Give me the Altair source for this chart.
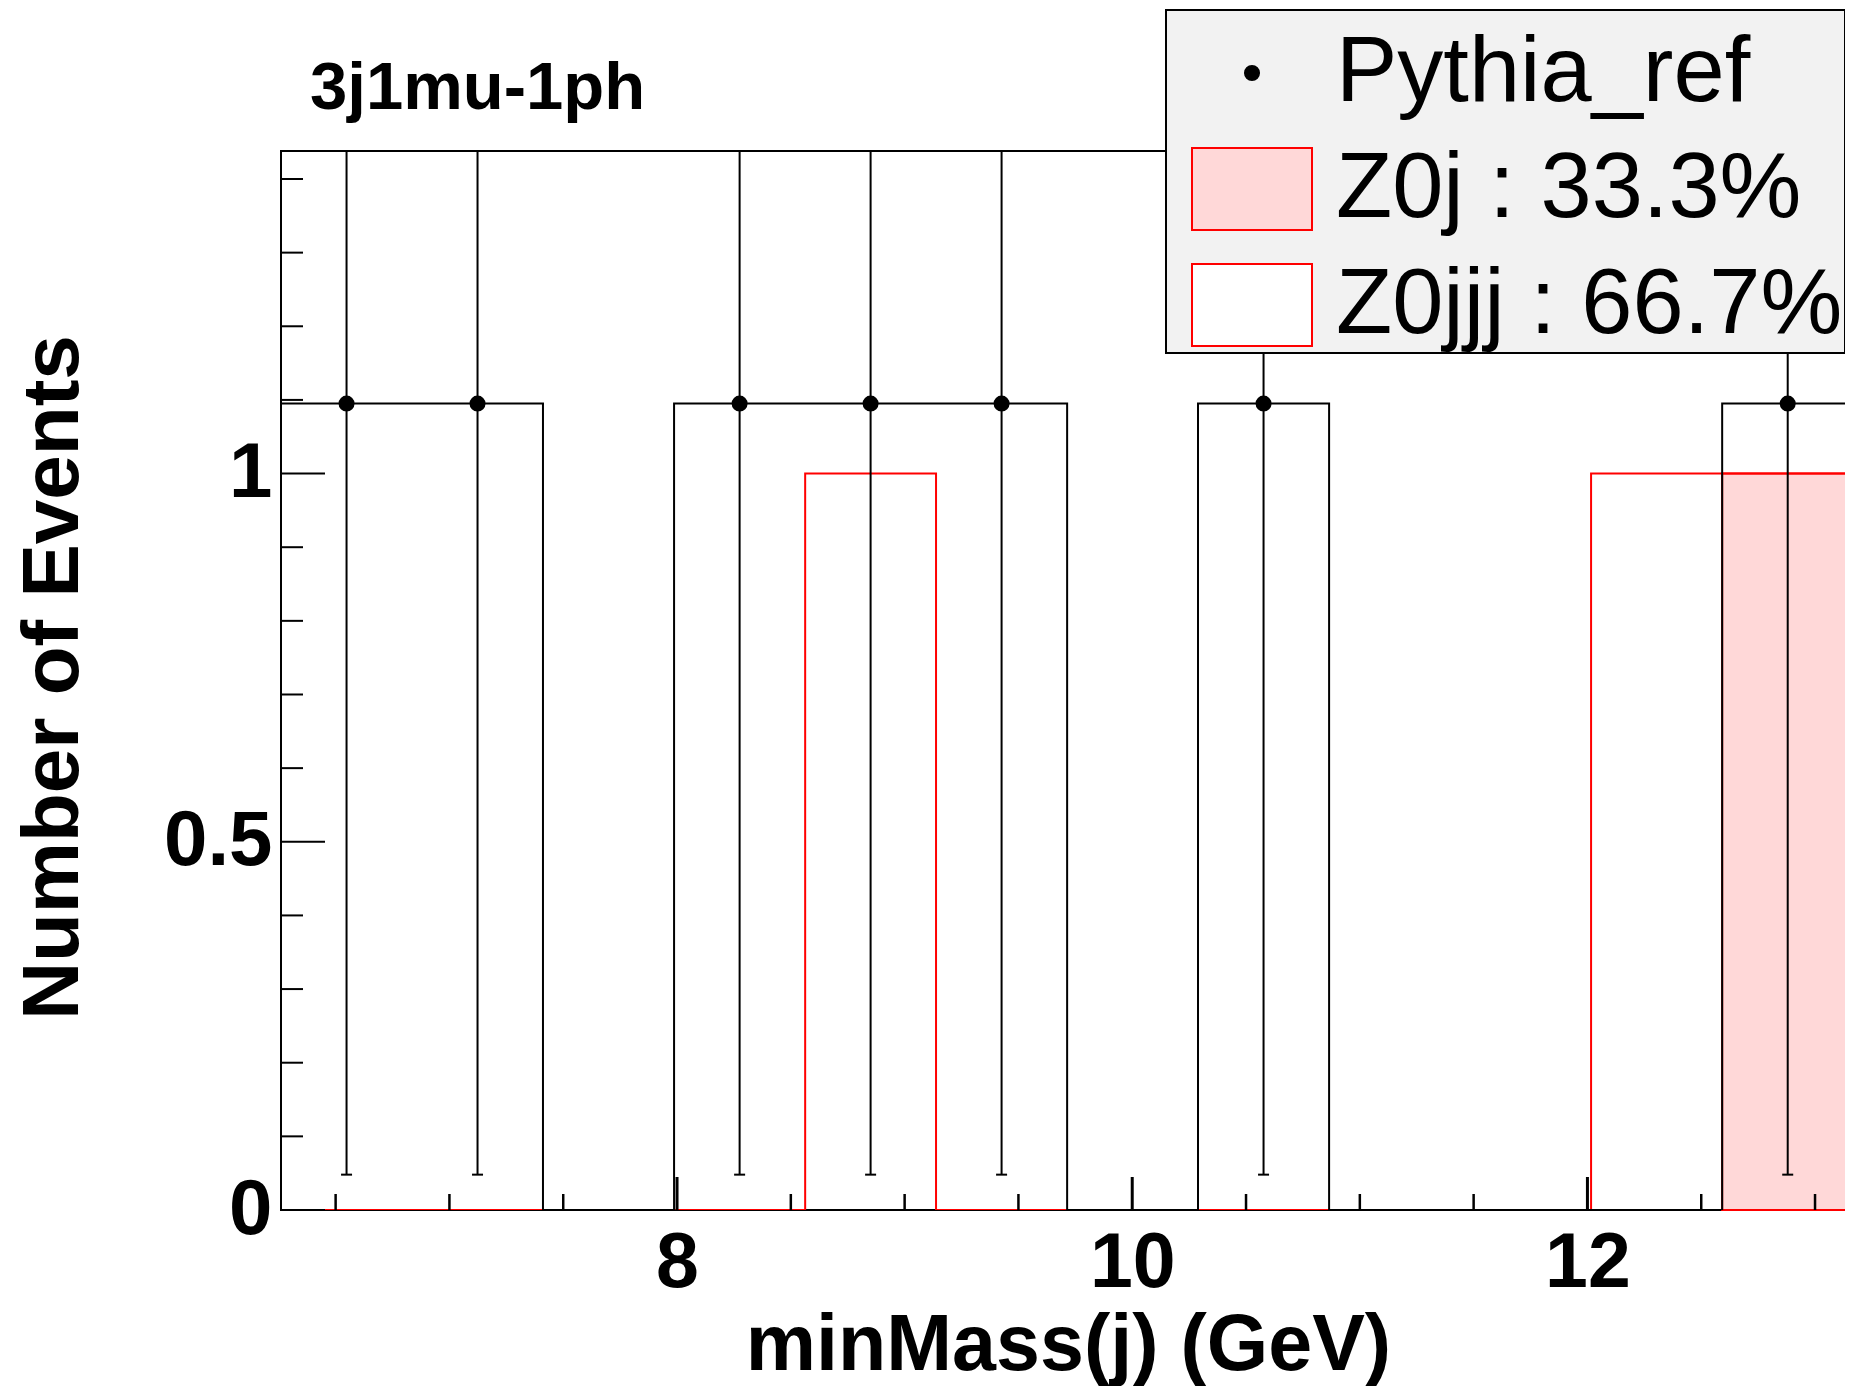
import altair as alt
import pandas as pd

# ---------------- data ----------------
bin_edges = [6.260, 6.836, 7.411, 7.987, 8.563, 9.138, 9.714, 10.289,
             10.865, 11.441, 12.016, 12.592, 13.168]
pythia_counts = [1.095, 1.095, 0.0, 1.095, 1.095, 1.095, 0.0, 1.095, 0.0, 0.0, 0.0, 1.095]
pythia_errors = [1.047, 1.047, 0.0, 1.047, 1.047, 1.047, 0.0, 1.047, 0.0, 0.0, 0.0, 1.047]
z0j_counts = [0, 0, 0, 0, 0, 0, 0, 0, 0, 0, 0, 1]
z0jjj_counts = [0, 0, 0, 0, 1, 0, 0, 0, 0, 0, 1, 0]
series_labels = ["Pythia_ref", "Z0j : 33.3%", "Z0jjj : 66.7%"]
title_text = "3j1mu-1ph"
x_title = "minMass(j) (GeV)"
y_title = "Number of Events"
x_major_ticks = [8, 10, 12]
x_minor_ticks = [6.5, 7, 7.5, 8.5, 9, 9.5, 10.5, 11, 11.5, 12.5, 13, 13.5]
y_major_ticks = [0, 0.5, 1.0]
y_minor_ticks = [0.1, 0.2, 0.3, 0.4, 0.6, 0.7, 0.8, 0.9, 1.1, 1.2, 1.3, 1.4]

# ---------------- layout / style ----------------
W, H = 1702, 1059
FONT = "Liberation Sans"
PINK = "#ffd8d8"
xs = alt.Scale(domain=[6.26, 13.738], nice=False, zero=False)
ys = alt.Scale(domain=[0, 1.438], nice=False, zero=False)

x_axis = alt.Axis(
    values=x_major_ticks, format="d", ticks=False, domain=False, grid=False,
    labelFont=FONT, labelFontWeight="bold", labelFontSize=77, labelColor="black",
    labelPadding=76, labelBaseline="alphabetic", labelFlush=False, labelOverlap=False,
    title=x_title, titleFont=FONT, titleFontWeight="bold", titleFontSize=79,
    titleColor="black", titleX=787, titleY=159, titleBaseline="alphabetic",
    titleAlign="center")
y_axis = alt.Axis(
    values=y_major_ticks, format="~g", ticks=False, domain=False, grid=False,
    labelFont=FONT, labelFontWeight="bold", labelFontSize=78, labelColor="black",
    labelPadding=9, labelBaseline="middle", labelFlush=False, labelOverlap=False,
    title=y_title, titleFont=FONT, titleFontWeight="bold", titleFontSize=80,
    titleColor="black", titleAngle=270, titleX=-204, titleY=526,
    titleBaseline="alphabetic", titleAlign="center")

bins = pd.DataFrame({
    "lo": bin_edges[:-1], "hi": bin_edges[1:],
    "pythia": pythia_counts, "err": pythia_errors,
    "z0j": z0j_counts, "z0jjj": z0jjj_counts,
})
bins["center"] = (bins["lo"] + bins["hi"]) / 2
bins["total"] = bins["z0j"] + bins["z0jjj"]
bins["err_lo"] = bins["pythia"] - bins["err"]
bins["err_hi"] = bins["pythia"] + bins["err"]
bins["zero"] = 0.0
bins["series"] = series_labels[0]

z0j_rects = bins[bins["z0j"] > 0]
pts = bins[bins["pythia"] > 0]


def step_frame(values):
    vals = list(values)
    return pd.DataFrame({"x": bin_edges, "y": vals + [vals[-1]]})


def X(f):
    return alt.X(f, scale=xs, axis=x_axis)


def Y(f):
    return alt.Y(f, scale=ys, axis=y_axis)


pink = alt.Chart(z0j_rects).mark_rect(fill=PINK, stroke="red", strokeWidth=2).encode(
    x=X("lo:Q"), x2="hi:Q", y=Y("zero:Q"), y2="z0j:Q")

red_step = alt.Chart(step_frame(bins["total"])).mark_line(
    interpolate="step-after", color="red", strokeWidth=2, clip=True).encode(
    x=X("x:Q"), y=Y("y:Q"))

black_step = alt.Chart(step_frame(bins["pythia"])).mark_line(
    interpolate="step-after", color="black", strokeWidth=2, clip=True).encode(
    x=X("x:Q"), y=Y("y:Q"))

err_rules = alt.Chart(pts).mark_rule(color="black", strokeWidth=2, clip=True).encode(
    x=X("center:Q"), y=Y("err_lo:Q"), y2="err_hi:Q")

end_caps = alt.Chart(pts).mark_tick(orient="horizontal", color="black", size=11,
                                    thickness=2, opacity=1).encode(
    x=X("center:Q"), y=Y("err_lo:Q"))

dot_path = "M0.117,0A0.117,0.117 0 1,1 -0.117,0A0.117,0.117 0 1,1 0.117,0Z"
box_path = "M-1,-0.683L1,-0.683L1,0.683L-1,0.683Z"

leg = alt.Legend(
    orient="none", legendX=885, legendY=-141, title=None,
    fillColor="#f2f2f2", strokeColor="black", padding=2, rowPadding=9,
    symbolSize=14400, symbolStrokeWidth=2, symbolOffset=23, labelOffset=23,
    labelFont=FONT, labelFontSize=92, labelColor="black", labelLimit=2000,
    labelExpr="datum.label + '\u00a0\u00a0\u00a0'")

points = alt.Chart(pts).mark_point(filled=True, size=14400, opacity=1).encode(
    x=X("center:Q"), y=Y("pythia:Q"),
    shape=alt.Shape("series:N", scale=alt.Scale(domain=series_labels,
                    range=[dot_path, box_path, box_path]), legend=leg),
    fill=alt.Fill("series:N", scale=alt.Scale(domain=series_labels,
                  range=["black", PINK, "white"]), legend=leg),
    stroke=alt.Stroke("series:N", scale=alt.Scale(domain=series_labels,
                      range=["black", "red", "red"]), legend=leg),
)

y_major = alt.Chart(pd.DataFrame({"v": y_major_ticks})).mark_rule(
    color="black", strokeWidth=2).encode(y=Y("v:Q"), x=alt.value(0), x2=alt.value(44))
y_minor = alt.Chart(pd.DataFrame({"v": y_minor_ticks})).mark_rule(
    color="black", strokeWidth=2).encode(y=Y("v:Q"), x=alt.value(0), x2=alt.value(22))
x_major = alt.Chart(pd.DataFrame({"v": x_major_ticks})).mark_rule(
    color="black", strokeWidth=3).encode(x=X("v:Q"), y=alt.value(H), y2=alt.value(H - 33))
x_minor = alt.Chart(pd.DataFrame({"v": x_minor_ticks})).mark_rule(
    color="black", strokeWidth=2.5).encode(x=X("v:Q"), y=alt.value(H), y2=alt.value(H - 16))

title = alt.Chart(pd.DataFrame({"t": [title_text]})).mark_text(
    align="left", baseline="alphabetic", font=FONT, fontSize=67,
    fontWeight="bold", color="black").encode(
    text="t:N", x=alt.value(29), y=alt.value(-42))

chart = alt.layer(
    pink, red_step, black_step, err_rules, end_caps, points,
    y_major, y_minor, x_major, x_minor, title,
).properties(
    width=W, height=H,
    autosize=alt.AutoSizeParams(type="none"),
    padding={"left": 273, "top": 143, "right": -138, "bottom": 176},
).configure_view(stroke="black", strokeWidth=2).configure_legend(strokeWidth=2)

chart.save("out.html", embed_options={"renderer": "svg", "actions": False})
